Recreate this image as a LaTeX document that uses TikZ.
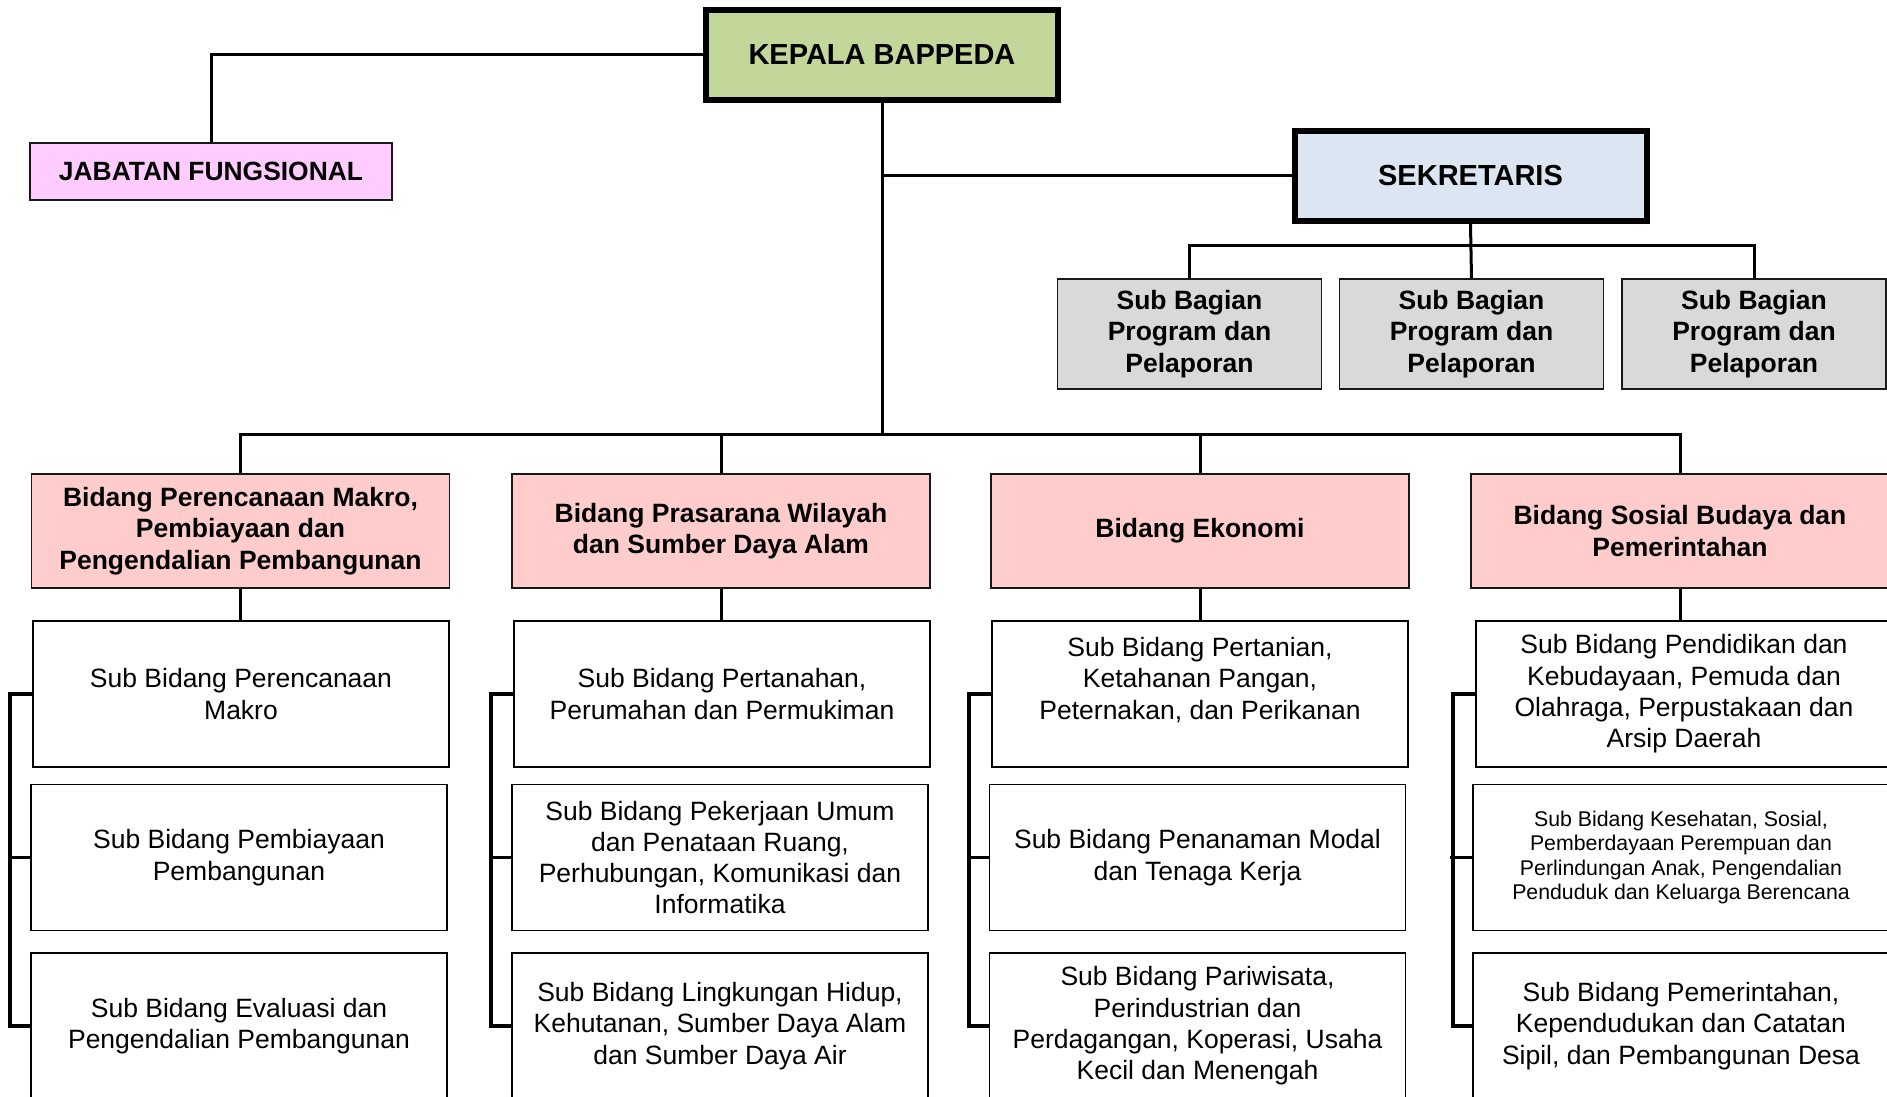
\documentclass[tikz,border=0pt]{standalone}
\usepackage{fontspec}
\setmainfont{Liberation Sans}
\definecolor{kepalagreen}{HTML}{C4D79B}
\definecolor{jabpink}{HTML}{FFCCFF}
\definecolor{sekblue}{HTML}{DCE6F2}
\definecolor{bagiangray}{HTML}{D9D9D9}
\definecolor{bidangpink}{HTML}{FFCCCC}
\tikzset{
  topbox/.style={draw,line width=3pt,font=\fontsize{14.5}{17}\selectfont\bfseries,minimum width=176pt,minimum height=45pt},
  jabbox/.style={draw=black!90,line width=0.8pt,fill=jabpink,font=\fontsize{13.2}{15.6}\selectfont\bfseries,minimum width=181pt,minimum height=28.5pt},
  bagian/.style={draw=black!90,line width=0.8pt,fill=bagiangray,font=\fontsize{13.25}{15.65}\selectfont\bfseries,align=center,minimum width=132pt,minimum height=55pt},
  bidang/.style={draw=black!90,line width=0.8pt,fill=bidangpink,font=\fontsize{13.25}{15.65}\selectfont\bfseries,align=center,minimum width=209pt,minimum height=57pt},
  subbid/.style={draw,line width=0.9pt,fill=white,font=\fontsize{13.25}{15.65}\selectfont,align=center,minimum width=208pt,minimum height=73pt},
  conn/.style={line width=1.5pt},
  bracket/.style={line width=1.7pt}
}
\begin{document}
\begin{tikzpicture}[x=0.5pt,y=-0.5pt]
\useasboundingbox (0,0) rectangle (1887,1097);
\node[topbox,fill=kepalagreen] (kep) at (882,55) {KEPALA BAPPEDA};
\node[jabbox] (jab) at (211,171.5) {JABATAN FUNGSIONAL};
\node[topbox,fill=sekblue] (sek) at (1470.5,176) {SEKRETARIS};
\node[bagian] (sb1) at (1189.5,334) {Sub Bagian\\Program dan\\Pelaporan};
\node[bagian] (sb2) at (1471.5,334) {Sub Bagian\\Program dan\\Pelaporan};
\node[bagian] (sb3) at (1754,334) {Sub Bagian\\Program dan\\Pelaporan};
\coordinate (bus) at (879,434);
\node[bidang] (b1) at (240.5,531) {Bidang Perencanaan Makro,\\Pembiayaan dan\\Pengendalian Pembangunan};
\node[bidang] (b2) at (721,531) {Bidang Prasarana Wilayah\\dan Sumber Daya Alam};
\node[bidang] (b3) at (1200,531) {Bidang Ekonomi};
\node[bidang] (b4) at (1680,531) {Bidang Sosial Budaya dan\\Pemerintahan};
\node[subbid] (s1-1) at (241,694) {Sub Bidang Perencanaan\\Makro};
\node[subbid] (s1-2) at (239,857.5) {Sub Bidang Pembiayaan\\Pembangunan};
\node[subbid] (s1-3) at (239,1026) {Sub Bidang Evaluasi dan\\Pengendalian Pembangunan};
\node[subbid] (s2-1) at (722,694) {Sub Bidang Pertanahan,\\Perumahan dan Permukiman};
\node[subbid] (s2-2) at (720,857.5) {Sub Bidang Pekerjaan Umum\\dan Penataan Ruang,\\Perhubungan, Komunikasi dan\\Informatika};
\node[subbid] (s2-3) at (720,1026) {Sub Bidang Lingkungan Hidup,\\Kehutanan, Sumber Daya Alam\\dan Sumber Daya Air};
\node[subbid] (s3-1) at (1200,694) {Sub Bidang Pertanian,\\Ketahanan Pangan,\\Peternakan, dan Perikanan\\\mbox{}};
\node[subbid] (s3-2) at (1197.5,857.5) {Sub Bidang Penanaman Modal\\dan Tenaga Kerja};
\node[subbid] (s3-3) at (1197.5,1026) {Sub Bidang Pariwisata,\\Perindustrian dan\\Perdagangan, Koperasi, Usaha\\Kecil dan Menengah};
\node[subbid] (s4-1) at (1684,694) {Sub Bidang Pendidikan dan\\Kebudayaan, Pemuda dan\\Olahraga, Perpustakaan dan\\Arsip Daerah};
\node[subbid,font=\fontsize{10.65}{12.25}\selectfont] (s4-2) at (1681,857.5) {Sub Bidang Kesehatan, Sosial,\\Pemberdayaan Perempuan dan\\Perlindungan Anak, Pengendalian\\Penduduk dan Keluarga Berencana};
\node[subbid] (s4-3) at (1681,1026) {Sub Bidang Pemerintahan,\\Kependudukan dan Catatan\\Sipil, dan Pembangunan Desa};
\draw[conn] (kep.west) -| (jab.north);
\draw[conn] (kep.south) -- (kep.south |- bus);
\draw[conn] (kep.south |- sek.west) -- (sek.west);
\draw[conn] (sek.south) -- (sb2.north);
\draw[conn] (sb1.north) -- ++(0,-33) -| (sb3.north);
\draw[conn] (b1.north) -- (b1.north |- bus) -| (b4.north);
\draw[conn] (b2.north) -- (b2.north |- bus);
\draw[conn] (b3.north) -- (b3.north |- bus);
\foreach \c in {1,...,4} {
  \draw[conn] (b\c.south) -- (b\c.south |- s\c-1.north);
  \draw[bracket] (s\c-1.west) -- ++(-22,0) |- (s\c-3.west);
  \draw[bracket] (s\c-2.west) -- ++(-22,0);
}
\end{tikzpicture}
\end{document}
